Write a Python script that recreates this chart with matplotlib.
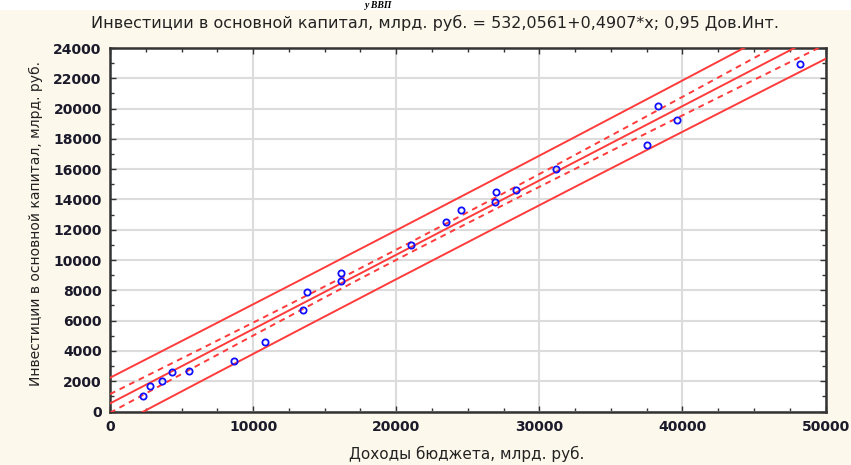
import numpy as np
import matplotlib
matplotlib.use("Agg")
import matplotlib.pyplot as plt
from matplotlib.ticker import MultipleLocator
from matplotlib.patches import Rectangle

# data
budget = [2300, 2800, 3600, 4300, 5500, 8700, 10800, 13500, 13800, 16150, 16150,
          21000, 23500, 24500, 26900, 27000, 28400, 31200, 37500, 38300, 39600, 48200]
invest = [1000, 1670, 2040, 2640, 2700, 3360, 4570, 6700, 7870, 8640, 9120,
          10990, 12480, 13320, 13800, 14460, 14640, 16000, 17580, 20170, 19250, 22920]
b0, b1 = 532.0561, 0.4907
t_crit = 2.086  # t(0.975, df=20)

title = "Инвестиции в основной капитал, млрд. руб. = 532,0561+0,4907*x; 0,95 Дов.Инт."
xlabel = "Доходы бюджета, млрд. руб."
ylabel = "Инвестиции в основной капитал, млрд. руб."

bg = "#fdf8ec"
red = "#ff3b3b"

x = np.array(budget, float)
y = np.array(invest, float)
n = len(x)
resid = y - (b0 + b1 * x)
s = np.sqrt(np.sum(resid ** 2) / (n - 2))
sxx = np.sum((x - x.mean()) ** 2)

xx = np.linspace(0, 50000, 200)
fit = b0 + b1 * xx
ci = t_crit * s * np.sqrt(1 / n + (xx - x.mean()) ** 2 / sxx)
pi = t_crit * s * np.sqrt(1 + 1 / n + (xx - x.mean()) ** 2 / sxx)

fig = plt.figure(figsize=(8.51, 4.65), dpi=100, facecolor=bg)
fig.patches.append(Rectangle((0, 1 - 10 / 465), 1, 10 / 465, transform=fig.transFigure,
                             facecolor="white", edgecolor="none", zorder=0))
# heading of the page, cut off in the source; kept small so it stays on the canvas
fig.text(0.445, 1 - 1 / 465, "у ВВП", ha="center", va="top", fontsize=7,
         family="Liberation Serif", weight="bold", style="italic")

ax = fig.add_axes([110 / 851, 1 - 411.5 / 465, 715.5 / 851, 363.5 / 465])
ax.set_facecolor("white")

ax.plot(xx, fit, color=red, lw=1.4, zorder=3)
ax.plot(xx, fit + ci, color=red, lw=1.4, ls=(0, (3, 2.5)), zorder=3)
ax.plot(xx, fit - ci, color=red, lw=1.4, ls=(0, (3, 2.5)), zorder=3)
ax.plot(xx, fit + pi, color=red, lw=1.4, zorder=3)
ax.plot(xx, fit - pi, color=red, lw=1.4, zorder=3)
ax.plot(x, y, "o", ms=4.5, mfc="none", mec="#1010ff", mew=1.3, zorder=4)

ax.set_xlim(0, 50000)
ax.set_ylim(0, 24000)
ax.xaxis.set_major_locator(MultipleLocator(10000))
ax.xaxis.set_minor_locator(MultipleLocator(2500))
ax.yaxis.set_major_locator(MultipleLocator(2000))
ax.yaxis.set_minor_locator(MultipleLocator(1000))
ax.grid(True, which="major", color="#dcdcdc", lw=1.5, zorder=0)
ax.set_axisbelow(True)
ax.tick_params(which="both", direction="in", top=True, right=True, color="#333333")
ax.tick_params(which="major", length=4, width=1)
ax.tick_params(which="minor", length=3, width=1)
ax.tick_params(labelsize=10, pad=6)
for lab in ax.get_xticklabels() + ax.get_yticklabels():
    lab.set_fontweight("bold")
    lab.set_color("#1a1a2a")
for sp in ax.spines.values():
    sp.set_color("#333333")
    sp.set_linewidth(1.8)

fig.text(435 / 851, 1 - 23 / 465, title, ha="center", va="center", fontsize=11.5,
         family="DejaVu Sans", color="#222222")
ax.set_xlabel(xlabel, fontsize=11, family="DejaVu Sans", color="#222222")
ax.xaxis.set_label_coords((467 - 110) / 715.5, -(446 - 411.5) / 363.5)
ax.set_ylabel(ylabel, fontsize=10, family="DejaVu Sans", color="#222222")
ax.yaxis.set_label_coords(-(110 - 43) / 715.5, (411.5 - 223) / 363.5)

fig.savefig("out.png", dpi=100, facecolor=bg)
